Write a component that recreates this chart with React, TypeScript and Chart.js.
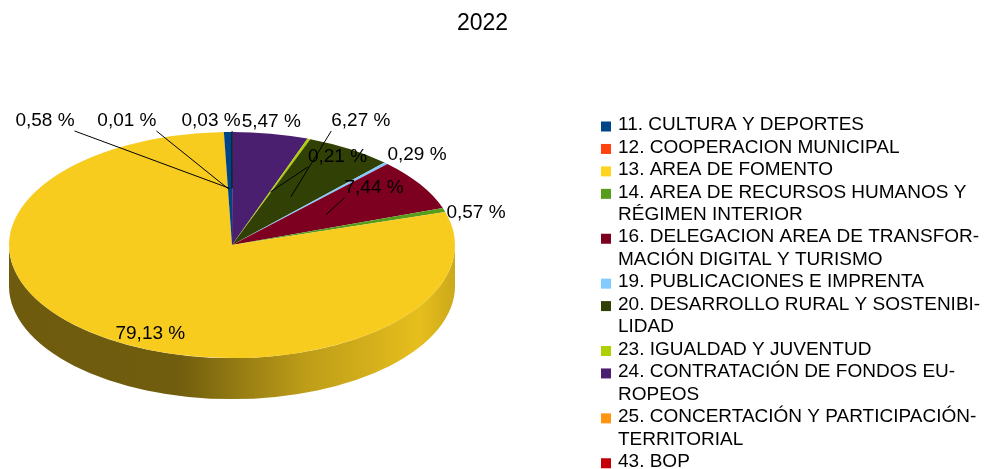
import React, { useEffect, useRef } from "react";
import { Chart, registerables } from "chart.js";

Chart.register(...registerables);

// ---------- data ----------
const chartTitle = "2022";
const categories = [
  "11. CULTURA Y DEPORTES",
  "12. COOPERACION MUNICIPAL",
  "13. AREA DE FOMENTO",
  "14. AREA DE RECURSOS HUMANOS Y RÉGIMEN INTERIOR",
  "16. DELEGACION AREA DE TRANSFORMACIÓN DIGITAL Y TURISMO",
  "19. PUBLICACIONES E IMPRENTA",
  "20. DESARROLLO RURAL Y SOSTENIBILIDAD",
  "23. IGUALDAD Y JUVENTUD",
  "24. CONTRATACIÓN DE FONDOS EUROPEOS",
  "25. CONCERTACIÓN Y PARTICIPACIÓN TERRITORIAL",
  "43. BOP",
];
// legend text as it wraps in the reference
const legendLines = [
  ["11. CULTURA Y DEPORTES"],
  ["12. COOPERACION MUNICIPAL"],
  ["13. AREA DE FOMENTO"],
  ["14. AREA DE RECURSOS HUMANOS Y", "RÉGIMEN INTERIOR"],
  ["16. DELEGACION AREA DE TRANSFOR-", "MACIÓN DIGITAL Y TURISMO"],
  ["19. PUBLICACIONES E IMPRENTA"],
  ["20. DESARROLLO RURAL Y SOSTENIBI-", "LIDAD"],
  ["23. IGUALDAD Y JUVENTUD"],
  ["24. CONTRATACIÓN DE FONDOS EU-", "ROPEOS"],
  ["25. CONCERTACIÓN Y PARTICIPACIÓN-", "TERRITORIAL"],
  ["43. BOP"],
];
const shares = [0.58, 0.01, 79.13, 0.57, 7.44, 0.29, 6.27, 0.21, 5.47, 0.03, 0];
const colors = [
  "#004586", "#ff420e", "#ffd320", "#579d1c", "#7e0021", "#83caff",
  "#314004", "#aecf00", "#4b1f6f", "#ff950e", "#c5000b",
];

// ---------- layout / style ----------
const W = 986;
const H = 469;
const TILT = 0.507; // vertical squash of the pie
const DEPTH = 41; // thickness of the 3D side
const FONT = "'Liberation Sans', Arial, sans-serif";
// label text-centre offsets from the slice anchor (half radius, mid angle)
const labelOffsets: [number, number][] = [
  [-185, -67.5], [-101, -67.5], [-17, 43], [138, -14.5], [48, -27],
  [108, -49], [70, -76], [67, -35], [20, -68], [-21, -67.5], [0, 0],
];
const labelLeader = [true, true, false, false, true, false, true, true, false, true, false];

function shade(hex: string, f: number): string {
  const n = parseInt(hex.slice(1), 16);
  const r = Math.min(255, Math.round(((n >> 16) & 255) * f));
  const g = Math.min(255, Math.round(((n >> 8) & 255) * f));
  const b = Math.min(255, Math.round((n & 255) * f));
  return `rgb(${r},${g},${b})`;
}

function fmt(v: number): string {
  return v.toFixed(2).replace(".", ",") + " %";
}

const N = shares.length;
// LibreOffice draws counter-clockwise from the top; Chart.js clockwise -> reverse
const revIdx = shares.map((_, i) => N - 1 - i);

const pie3d = {
  id: "pie3d",
  beforeDatasetsDraw(chart: any) {
    const ctx = chart.ctx as CanvasRenderingContext2D;
    const arcs = chart.getDatasetMeta(0).data as any[];
    if (!arcs.length) return;
    const cx = arcs[0].x, cy = arcs[0].y, R = arcs[0].outerRadius;
    const ry = R * TILT;
    arcs.forEach((arc: any, i: number) => {
      const col = colors[revIdx[i]];
      const s = arc.startAngle, e = arc.endAngle;
      if (e - s <= 0) return;
      for (const k of [-2 * Math.PI, 0, 2 * Math.PI]) {
        const lo = Math.max(s, k);
        const hi = Math.min(e, k + Math.PI);
        if (hi <= lo) continue;
        const g = ctx.createLinearGradient(cx - R, 0, cx + R, 0);
        g.addColorStop(0, shade(col, 0.43));
        g.addColorStop(0.38, shade(col, 0.44));
        g.addColorStop(0.66, shade(col, 0.74));
        g.addColorStop(0.92, shade(col, 0.9));
        g.addColorStop(1, shade(col, 0.8));
        ctx.beginPath();
        ctx.ellipse(cx, cy, R, ry, 0, lo, hi, false);
        ctx.lineTo(cx + R * Math.cos(hi), cy + DEPTH + ry * Math.sin(hi));
        ctx.ellipse(cx, cy + DEPTH, R, ry, 0, hi, lo, true);
        ctx.closePath();
        ctx.fillStyle = g;
        ctx.fill();
      }
    });
    ctx.save();
    ctx.translate(cx, cy);
    ctx.scale(1, TILT);
    ctx.translate(-cx, -cy);
  },
  afterDatasetsDraw(chart: any) {
    const arcs = chart.getDatasetMeta(0).data as any[];
    if (!arcs.length) return;
    chart.ctx.restore();
  },
  afterDraw(chart: any) {
    const ctx = chart.ctx as CanvasRenderingContext2D;
    const arcs = chart.getDatasetMeta(0).data as any[];
    // title
    ctx.save();
    ctx.fillStyle = "#000";
    ctx.font = `23px ${FONT}`;
    ctx.textAlign = "center";
    ctx.textBaseline = "middle";
    ctx.fillText(chartTitle, 482.5, 24);

    // labels
    if (arcs.length) {
      const cx = arcs[0].x, cy = arcs[0].y, R = arcs[0].outerRadius;
      ctx.font = `19px ${FONT}`;
      arcs.forEach((arc: any, i: number) => {
        const oi = revIdx[i];
        const v = shares[oi];
        if (!v) return;
        const m = (arc.startAngle + arc.endAngle) / 2;
        const ax = cx + 0.5 * R * Math.cos(m);
        const ay = cy + 0.5 * R * TILT * Math.sin(m);
        const [dx, dy] = labelOffsets[oi];
        const tx = ax + dx, ty = ay + dy;
        const txt = fmt(v);
        const w = ctx.measureText(txt).width;
        if (labelLeader[oi]) {
          const left = tx - w / 2, right = tx + w / 2;
          const sx = Math.min(right, Math.max(left, ax));
          const sy = ty + 10;
          ctx.beginPath();
          ctx.moveTo(sx, sy);
          ctx.lineTo(ax, ay);
          ctx.strokeStyle = "#000";
          ctx.lineWidth = 1;
          ctx.stroke();
        }
        ctx.fillStyle = "#000";
        ctx.textAlign = "center";
        ctx.textBaseline = "middle";
        ctx.fillText(txt, tx, ty);
      });
    }

    // legend
    ctx.font = `19px ${FONT}`;
    ctx.textAlign = "left";
    ctx.textBaseline = "middle";
    let line = 0;
    const y0 = 125, lh = 22.45;
    legendLines.forEach((lines, i) => {
      const y = y0 + line * lh;
      ctx.fillStyle = colors[i];
      ctx.fillRect(601, y - 3.5, 10, 10);
      ctx.fillStyle = "#000";
      lines.forEach((t, j) => {
        ctx.fillText(t, 618, y + j * lh);
      });
      line += lines.length;
    });
    ctx.restore();
  },
};

export default function App() {
  const ref = useRef<HTMLCanvasElement | null>(null);
  useEffect(() => {
    document.body.style.margin = "0";
    const canvas = ref.current;
    if (!canvas) return;
    const chart = new Chart(canvas, {
      type: "pie",
      data: {
        labels: revIdx.map((i) => categories[i]),
        datasets: [
          {
            data: revIdx.map((i) => shares[i]),
            backgroundColor: revIdx.map((i) => shade(colors[i], i === 2 ? 0.968 : 1)),
            borderWidth: 0,
          },
        ],
      },
      options: {
        responsive: false,
        animation: false,
        events: [],
        devicePixelRatio: 1,
        layout: { padding: { left: 9, right: W - 455, top: 22, bottom: 1 } },
        plugins: {
          legend: { display: false },
          title: { display: false },
          tooltip: { enabled: false },
        },
      },
      plugins: [pie3d],
    });
    return () => chart.destroy();
  }, []);
  return (
    <div style={{ width: W, height: H, background: "#fff" }}>
      <canvas ref={ref} width={W} height={H} style={{ display: "block" }} />
    </div>
  );
}
